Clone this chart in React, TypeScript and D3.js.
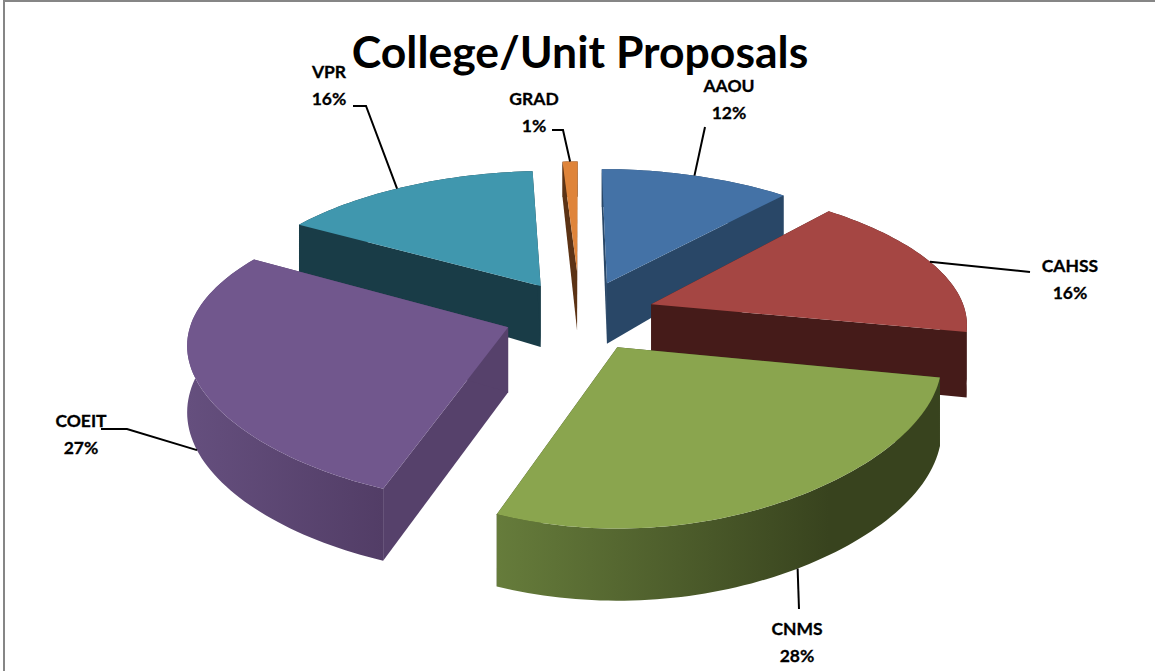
import React from "react";
import * as d3 from "d3";

// ---- data ----
const categories = ["AAOU", "CAHSS", "CNMS", "COEIT", "VPR", "GRAD"];
const percents = [12, 16, 28, 27, 16, 1];
const chartTitle = "College/Unit Proposals";

// ---- styles ----
const topColors = ["#4472A6", "#A54643", "#8AA54E", "#71578D", "#4097AE", "#DF843A"];
const radialColors = ["#294767", "#451B19", "#3A451F", "#56416B", "#193C47", "#5C3315"];
const wallStart = ["#294767", "#451B19", "#667C3B", "#654F7E", "#193C47", "#5C3315"];
const wallEnd = ["#294767", "#451B19", "#38431E", "#523D66", "#193C47", "#5C3315"];
const paintOrder = ["GRAD", "VPR", "AAOU", "CAHSS", "COEIT", "CNMS"];

// ---- layout ----
const W = 1155, H = 671;
const cx = 580, cy = 315, R0 = 315;
const explode = [0.24, 0.24, 0.24, 0.24, 0.24, 0.31];
const labelCenter = [729, 1070, 797, 81, 329, 534];
const labelFirstBaseline = [92, 272, 635, 427, 78, 105];
const leaderZ = [0, 0, 1, 1, 0, 0];
const leaderRimShift = [0, 0, -0.07, 0, -0.05, 0];
const leaderElbows: [number, number][][] = [
  [[705, 127]],
  [[1030, 272]],
  [[799, 609]],
  [[127, 429], [101, 429]],
  [[366, 106], [353, 106]],
  [[563, 130], [552, 130]],
];

// Ground-plane (X right, Y away from viewer) to screen, with the bulge of the 3-D view.
const project = (X: number, Y: number, z: number): [number, number] => {
  const w = 1 + 0.13 * Y + 0.08 * Y * Y;
  const depth = 64 - 14 * Y - 6 * Y * Y;
  return [cx + (R0 * X) / w, cy - 148 * Y + 23.5 * Y * Y + depth * z];
};

const pie = d3.pie<number>().sort(null).value((d) => d);
const arcs = pie(percents);
const lineGen = d3.line<[number, number]>();
const closed = (pts: [number, number][]) => lineGen(pts)! + "Z";

function sliceGeometry(i: number) {
  const a = arcs[i];
  const mid = (a.startAngle + a.endAngle) / 2;
  const ox = explode[i] * Math.sin(mid);
  const oy = explode[i] * Math.cos(mid);
  const rim = (t: number, z: number) => project(ox + Math.sin(t), oy + Math.cos(t), z);
  const apex = (z: number) => project(ox, oy, z);
  const n = Math.max(4, Math.ceil((a.endAngle - a.startAngle) * 40));
  const ts = d3.range(n + 1).map((k) => a.startAngle + ((a.endAngle - a.startAngle) * k) / n);
  const topArc = ts.map((t) => rim(t, 0));
  const botArc = ts.map((t) => rim(t, 1));
  return {
    mid,
    rim,
    top: closed([apex(0), ...topArc]),
    wall: closed([...topArc, ...botArc.slice().reverse()]),
    startWall: closed([apex(0), rim(a.startAngle, 0), rim(a.startAngle, 1), apex(1)]),
    endWall: closed([apex(0), rim(a.endAngle, 0), rim(a.endAngle, 1), apex(1)]),
    xExtent: d3.extent(topArc, (p) => p[0]) as [number, number],
  };
}

export default function App() {
  const geoms = categories.map((_, i) => sliceGeometry(i));
  return (
    <svg
      width={W}
      height={H}
      viewBox={`0 0 ${W} ${H}`}
      style={{ position: "absolute", left: 0, top: 0, background: "#fff" }}
      fontFamily="Lato, 'Open Sans', sans-serif"
    >
      <line x1={3} y1={1} x2={W} y2={1} stroke="#868686" strokeWidth={2} />
      <line x1={4} y1={0} x2={4} y2={H} stroke="#868686" strokeWidth={2} />
      <defs>
        {categories.map((c, i) => (
          <linearGradient
            key={c}
            id={`wall-${c}`}
            gradientUnits="userSpaceOnUse"
            x1={geoms[i].xExtent[0]}
            x2={geoms[i].xExtent[0] + (geoms[i].xExtent[1] - geoms[i].xExtent[0]) * (c === "CNMS" ? 0.75 : 1)}
            y1={0}
            y2={0}
          >
            <stop offset="0%" stopColor={wallStart[i]} />
            <stop offset="100%" stopColor={wallEnd[i]} />
          </linearGradient>
        ))}
      </defs>
      {paintOrder.map((name) => {
        const i = categories.indexOf(name);
        const g = geoms[i];
        return (
          <g key={name}>
            <path d={g.startWall} fill={radialColors[i]} />
            <path d={g.endWall} fill={radialColors[i]} />
            <path d={g.wall} fill={`url(#wall-${name})`} />
            <path d={g.top} fill={topColors[i]} />
          </g>
        );
      })}
      {categories.map((c, i) => {
        const g = geoms[i];
        const anchor = g.rim(g.mid + leaderRimShift[i], leaderZ[i]);
        return (
          <path
            key={c}
            d={lineGen([anchor, ...leaderElbows[i]])!}
            fill="none"
            stroke="#000"
            strokeWidth={2}
          />
        );
      })}
      {categories.map((c, i) => (
        <text
          key={c}
          textAnchor="middle"
          fontSize={17.5}
          fontWeight={700}
          fill="#000"
          stroke="#000"
          strokeWidth={0.3}
          y={labelFirstBaseline[i]}
        >
          <tspan x={labelCenter[i]}>{c}</tspan>
          <tspan x={labelCenter[i]} dy={27}>{`${percents[i]}%`}</tspan>
        </text>
      ))}
      <text x={580} y={68} textAnchor="middle" fontSize={44.5} fontWeight={700} fill="#000">
        {chartTitle}
      </text>
    </svg>
  );
}
